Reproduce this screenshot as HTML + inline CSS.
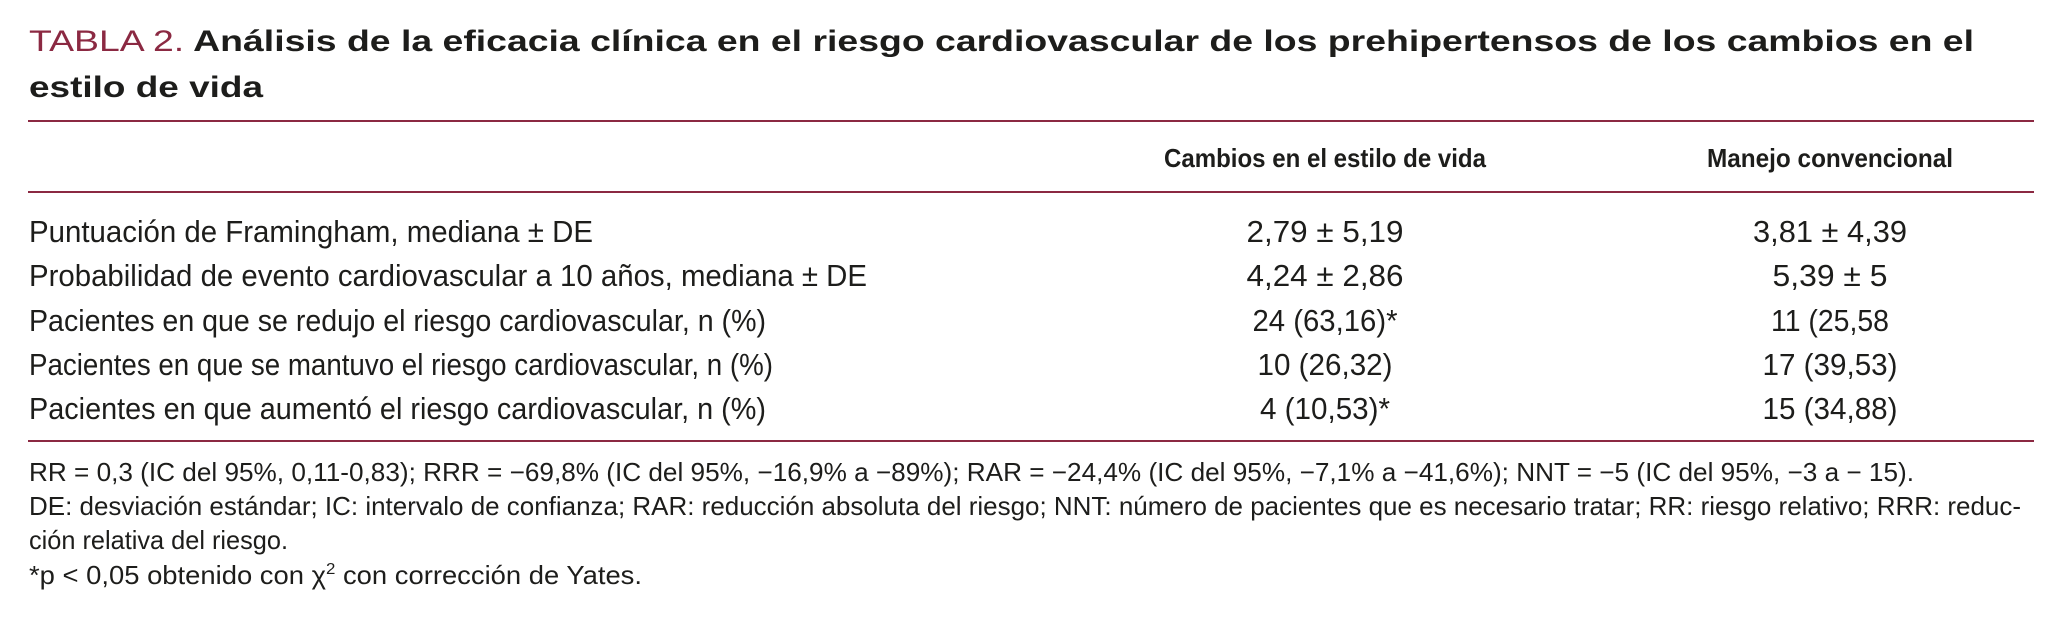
<!DOCTYPE html>
<html><head><meta charset="utf-8"><style>
html,body{margin:0;padding:0;background:#fff;}
svg{display:block;}
text{font-family:"Liberation Sans Narrow","Liberation Sans",sans-serif;fill:#1d1d1b;}
.t{font-family:"Liberation Sans",sans-serif;font-size:30px;font-weight:bold;}
.h{font-size:26px;font-weight:bold;}
.r{font-size:31px;}
.f{font-size:26px;}
</style></head><body>
<svg width="2054" height="637" viewBox="0 0 2054 637">
<g>
<text class="t" x="29" y="51" textLength="1945" lengthAdjust="spacingAndGlyphs"><tspan style="fill:#8b2942;font-weight:normal">TABLA 2.</tspan> Análisis de la eficacia clínica en el riesgo cardiovascular de los prehipertensos de los cambios en el</text>
<text class="t" x="29" y="97" textLength="234" lengthAdjust="spacingAndGlyphs">estilo de vida</text>
</g>
<rect x="28" y="120" width="2006" height="2" fill="#8b2942"/>
<g>
<text class="h" x="1325" y="167" text-anchor="middle" textLength="322" lengthAdjust="spacingAndGlyphs">Cambios en el estilo de vida</text>
<text class="h" x="1830" y="167" text-anchor="middle" textLength="246" lengthAdjust="spacingAndGlyphs">Manejo convencional</text>
</g>
<rect x="28" y="191" width="2006" height="2" fill="#8b2942"/>
<g>
<text class="r" x="29" y="242" textLength="564" lengthAdjust="spacingAndGlyphs">Puntuación de Framingham, mediana ± DE</text>
<text class="r" x="1325" y="242" text-anchor="middle" textLength="157" lengthAdjust="spacingAndGlyphs">2,79 ± 5,19</text>
<text class="r" x="1830" y="242" text-anchor="middle" textLength="154" lengthAdjust="spacingAndGlyphs">3,81 ± 4,39</text>
</g>
<g>
<text class="r" x="29" y="286" textLength="838" lengthAdjust="spacingAndGlyphs">Probabilidad de evento cardiovascular a 10 años, mediana ± DE</text>
<text class="r" x="1325" y="286" text-anchor="middle" textLength="157" lengthAdjust="spacingAndGlyphs">4,24 ± 2,86</text>
<text class="r" x="1830" y="286" text-anchor="middle" textLength="115" lengthAdjust="spacingAndGlyphs">5,39 ± 5</text>
</g>
<g>
<text class="r" x="29" y="331" textLength="737" lengthAdjust="spacingAndGlyphs">Pacientes en que se redujo el riesgo cardiovascular, n (%)</text>
<text class="r" x="1325" y="331" text-anchor="middle" textLength="145" lengthAdjust="spacingAndGlyphs">24 (63,16)*</text>
<text class="r" x="1830" y="331" text-anchor="middle" textLength="118" lengthAdjust="spacingAndGlyphs">11 (25,58</text>
</g>
<g>
<text class="r" x="29" y="375" textLength="744" lengthAdjust="spacingAndGlyphs">Pacientes en que se mantuvo el riesgo cardiovascular, n (%)</text>
<text class="r" x="1325" y="375" text-anchor="middle" textLength="135" lengthAdjust="spacingAndGlyphs">10 (26,32)</text>
<text class="r" x="1830" y="375" text-anchor="middle" textLength="135" lengthAdjust="spacingAndGlyphs">17 (39,53)</text>
</g>
<g>
<text class="r" x="29" y="419" textLength="737" lengthAdjust="spacingAndGlyphs">Pacientes en que aumentó el riesgo cardiovascular, n (%)</text>
<text class="r" x="1325" y="419" text-anchor="middle" textLength="130" lengthAdjust="spacingAndGlyphs">4 (10,53)*</text>
<text class="r" x="1830" y="419" text-anchor="middle" textLength="135" lengthAdjust="spacingAndGlyphs">15 (34,88)</text>
</g>
<rect x="28" y="440" width="2006" height="2" fill="#8b2942"/>
<g>
<text class="f" x="29" y="481" textLength="1885" lengthAdjust="spacingAndGlyphs">RR = 0,3 (IC del 95%, 0,11-0,83); RRR = −69,8% (IC del 95%, −16,9% a −89%); RAR = −24,4% (IC del 95%, −7,1% a −41,6%); NNT = −5 (IC del 95%, −3 a − 15).</text>
<text class="f" x="29" y="515" textLength="1992" lengthAdjust="spacingAndGlyphs">DE: desviación estándar; IC: intervalo de confianza; RAR: reducción absoluta del riesgo; NNT: número de pacientes que es necesario tratar; RR: riesgo relativo; RRR: reduc-</text>
<text class="f" x="29" y="549" textLength="259" lengthAdjust="spacingAndGlyphs">ción relativa del riesgo.</text>
<text class="f" x="29" y="584" textLength="613" lengthAdjust="spacingAndGlyphs">*p &lt; 0,05 obtenido con χ<tspan dy="-10" font-size="16">2</tspan><tspan dy="10"> con corrección de Yates.</tspan></text>
</g>
</svg>
</body></html>
